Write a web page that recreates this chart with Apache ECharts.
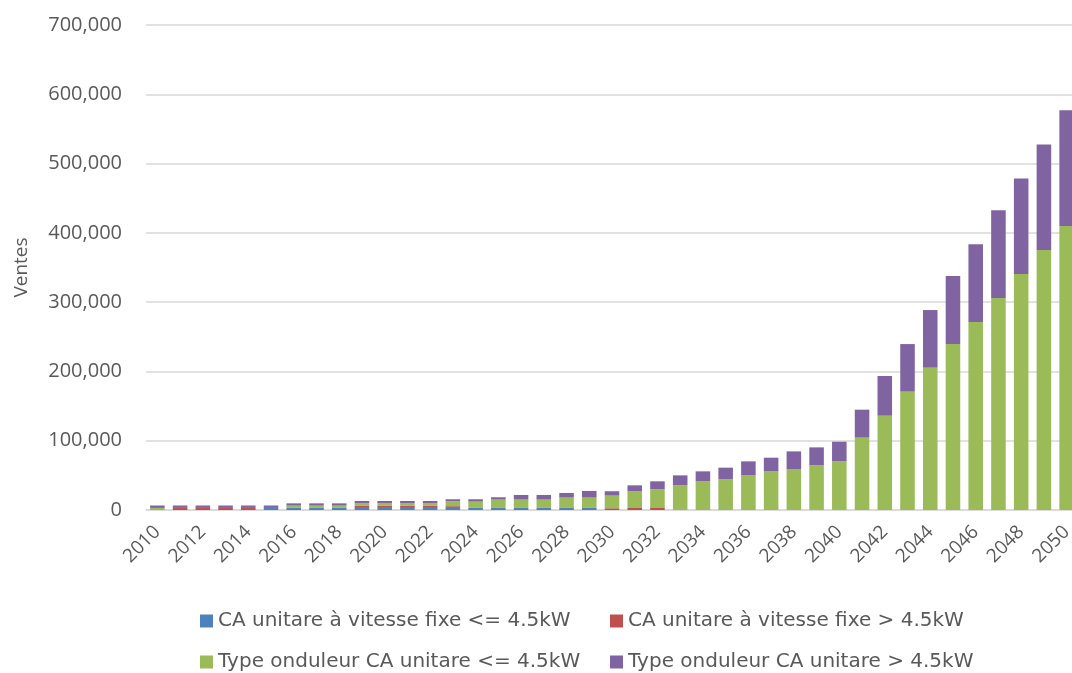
<!DOCTYPE html>
<html>
<head>
<meta charset="utf-8">
<script src="https://cdn.jsdelivr.net/npm/echarts@6/dist/echarts.min.js"></script>
<style>
html,body{margin:0;padding:0;background:#fff;overflow:hidden;}
#chart{width:1078px;height:673px;}
</style>
</head>
<body>
<div id="chart"></div>
<script>
const years = [];
for (let y = 2010; y <= 2050; y++) years.push(String(y));

const seriesNames = [
  'CA unitare à vitesse fixe <= 4.5kW',
  'CA unitare à vitesse fixe > 4.5kW',
  'Type onduleur CA unitare <= 4.5kW',
  'Type onduleur CA unitare > 4.5kW'
];

const fixeSmall = [
  0, 0, 0, 0, 0, 3000, 3000, 3000, 3000, 3000,
  3000, 3000, 3000, 3000, 3000, 3000, 3000, 3000, 3000, 3000,
  0, 0, 0, 0, 0, 0, 0, 0, 0, 0,
  0, 0, 0, 0, 0, 0, 0, 0, 0, 0, 0
];
const fixeLarge = [
  0, 3000, 3000, 3000, 3000, 0, 0, 0, 0, 3000,
  3000, 3000, 3000, 2500, 0, 0, 0, 0, 0, 0,
  2500, 2900, 2900, 0, 0, 0, 0, 0, 0, 0,
  0, 0, 0, 0, 0, 0, 0, 0, 0, 0, 0
];
const onduleurSmall = [
  3000, 0, 0, 0, 0, 0, 3300, 3300, 3300, 4000,
  4000, 4000, 4000, 7000, 9100, 12000, 12000, 12000, 14900, 14900,
  18300, 24000, 27000, 35600, 41400, 44300, 50000, 55800, 59200, 64500,
  70200, 104400, 136100, 170800, 205400, 239500, 271300, 305900, 340600, 375200, 409800
];
const onduleurLarge = [
  3500, 3500, 3500, 3500, 3500, 3500, 3300, 3300, 3300, 3000,
  3000, 3000, 3000, 3000, 3400, 3400, 6700, 6700, 6700, 9600,
  6300, 8700, 11500, 14400, 14400, 16800, 20200, 19700, 25400, 25900,
  28400, 40400, 57300, 68700, 83200, 98200, 112100, 126600, 138000, 152500, 167000
];

const colors = ['#4f81bd', '#c0504d', '#9bbb59', '#8064a2'];
const dataSets = [fixeSmall, fixeLarge, onduleurSmall, onduleurLarge];
const FONT = 'Open Sans';
const TXT = '#595959';

const chart = echarts.init(document.getElementById('chart'));

const legendPos = [
  {left: 200, top: 611},
  {left: 610, top: 611},
  {left: 200, top: 652},
  {left: 610, top: 652}
];

chart.setOption({
  animation: false,
  backgroundColor: '#ffffff',
  color: colors,
  grid: {left: 146, top: 25, right: 0, height: 485, containLabel: false},
  legend: seriesNames.map((n, i) => ({
    data: [n],
    left: legendPos[i].left,
    top: legendPos[i].top,
    padding: 0,
    icon: 'rect',
    itemWidth: 13,
    itemHeight: 13,
    textStyle: {fontFamily: 'DejaVu Sans', fontSize: 20, color: TXT}
  })),
  xAxis: {
    type: 'category',
    data: years,
    axisLine: {show: true, lineStyle: {color: '#d9d9d9', width: 1.5}},
    axisTick: {show: false},
    axisLabel: {
      interval: 1,
      rotate: 45,
      margin: 19,
      fontFamily: FONT,
      fontSize: 19,
      color: TXT
    }
  },
  yAxis: {
    type: 'value',
    min: 0,
    max: 700000,
    interval: 100000,
    name: 'Ventes',
    nameLocation: 'middle',
    nameGap: 115,
    nameTextStyle: {fontFamily: FONT, fontSize: 19, color: TXT},
    axisLine: {show: false},
    axisTick: {show: false},
    splitLine: {lineStyle: {color: '#d9d9d9', width: 1.5}},
    axisLabel: {
      margin: 24,
      fontFamily: FONT,
      fontSize: 20,
      color: TXT,
      formatter: v => v.toLocaleString('en-US')
    }
  },
  series: seriesNames.map((n, i) => ({
    name: n,
    type: 'bar',
    stack: 'total',
    barWidth: '64%',
    data: dataSets[i],
    itemStyle: {color: colors[i]}
  }))
});
</script>
</body>
</html>
